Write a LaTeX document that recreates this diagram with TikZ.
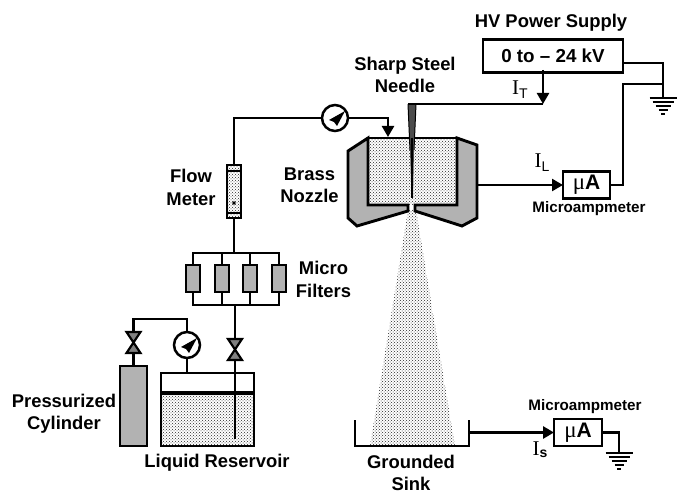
\documentclass[tikz,border=0pt]{standalone}
\usepackage{fontspec}
\setmainfont{Liberation Sans}
\newfontfamily\serifcur{Liberation Serif}
\usetikzlibrary{patterns,arrows.meta}
\definecolor{metal}{gray}{0.70}
\definecolor{valvegray}{gray}{0.50}
\newcommand{\needlemark}[1]{\fill[black] ([shift={(10,-7)}]#1.center) -- ([shift={(-6,2)}]#1.center) -- ([shift={(-1,4)}]#1.center) -- ([shift={(2,8)}]#1.center) -- cycle;}
\newcommand{\valvetie}[1]{\draw[line width=2.2pt,fill=valvegray,line join=miter] (#1.north west) -- (#1.north east) -- (#1.south west) -- (#1.south east) -- cycle;}
\newcommand{\earthmark}[1]{\foreach \dy/\hw in {0/13.5,4/10.5,8/7.5,12/4.5,16/2}{\draw[line width=1.8pt] ([shift={(-\hw,\dy)}]#1) -- ([shift={(\hw,\dy)}]#1);}}
\tikzset{
  label text/.style={font=\fontsize{18.4}{22.5}\bfseries\selectfont,align=center,inner sep=0,text=black},
  small text/.style={font=\fontsize{15.2}{18}\bfseries\selectfont,align=center,inner sep=0},
  current text/.style={inner sep=0,font=\fontsize{21}{21}\selectfont},
  wire/.style={line width=2.4pt,line join=miter},
  heavy/.style={line width=2.9pt,line join=miter},
  flow/.style={wire,-{Triangle[length=11pt,width=12pt]}},
  boxed/.style={draw,line width=2.8pt,fill=white,inner sep=0,outer sep=0},
  gauge/.style={circle,draw,line width=2.5pt,fill=white,minimum size=26pt,inner sep=0,outer sep=0},
  valve/.style={inner sep=0,outer sep=0,minimum width=14pt,minimum height=21pt},
  filterbox/.style={boxed,fill=metal,minimum width=14pt,minimum height=27pt},
  stipple/.style={pattern=crosshatch dots,pattern color=black!85},
}
\begin{document}
\begin{tikzpicture}[x=1pt,y=-1pt]
\useasboundingbox (0,0) rectangle (682,494);
\fill[white] (0,0) rectangle (682,494);

% spray
\fill[stipple] (408,210) -- (416,210) -- (455,446) -- (370,446) -- cycle;

% nozzle
\fill[stipple] (368,138) rectangle (457,205);
\draw[heavy,fill=metal] (368,138) -- (348,151) -- (348,218) -- (357,226) -- (408,211) -- (408,205) -- (368,205) -- cycle;
\draw[heavy,fill=metal] (457,138) -- (477,145) -- (477,218) -- (462,226) -- (415,211) -- (415,205) -- (457,205) -- cycle;
\draw[heavy] (368,138) -- (457,138);

% needle
\coordinate (needletop) at (408,104);
\fill[black!70] (408,104) -- (416,104) -- (414,150) -- (413,198) -- (411.5,198) -- (410,150) -- cycle;
\draw[line width=1.8pt] (412,138) -- (412,198);
\draw[line width=1pt] (408,104) -- (410,150);
\draw[line width=1pt] (416,104) -- (414,150);

% power supply
\node[boxed,minimum width=140pt,minimum height=33pt,font=\fontsize{18.8}{23}\bfseries\selectfont] (hv) at (553,56) {0 to – 24 kV};
\node[label text] (hvlabel) at (551,23) {HV Power Supply};
\coordinate (hvdrop) at (543,70);
\coordinate (junction) at (543,104);
\draw[flow] (hvdrop) -- (junction);
\draw[wire] (junction) -- (needletop);
\node[current text] (it) at (520,90) {\serifcur I\raisebox{-4pt}{\fontsize{14}{14}\selectfont\rmfamily T}};

% HV ground
\coordinate (gnda) at (663,98);
\coordinate (hvout) at (623,63);
\draw[wire] (hvout) -- (663,63) -- (gnda);
\earthmark{gnda}

% nozzle ammeter
\node[boxed,minimum width=47pt,minimum height=27pt] (ma) at (586.5,185) {\serifcur\fontsize{23}{23}\selectfont μ\rmfamily\bfseries\fontsize{21}{21}\selectfont A};
\node[small text] (malabel) at (589,209) {Microampmeter};
\coordinate (nozzleout) at (477,185);
\draw[flow] (nozzleout) -- (ma.west);
\draw[wire] (ma.east) -- (623,185) -- (623,84) -- (663,84);
\node[current text] (il) at (542,163) {\serifcur I\raisebox{-4pt}{\fontsize{14}{14}\selectfont\rmfamily L}};

\node[label text] (needlelabel) at (405,75) {Sharp Steel\\Needle};
\node[label text] (brasslabel) at (309.5,185.5) {Brass\\Nozzle};

% sink
\coordinate (sinktl) at (355,420);
\coordinate (sinktr) at (469,420);
\draw[line width=2.5pt,line join=miter] (sinktl) -- (355,446) -- (469,446) -- (sinktr);
\node[boxed,minimum width=48pt,minimum height=27pt] (sa) at (578,432.5) {\serifcur\fontsize{23}{23}\selectfont μ\rmfamily\bfseries\fontsize{21}{21}\selectfont A};
\node[small text] (salabel) at (585,407) {Microampmeter};
\coordinate (sinkout) at (469,432.5);
\draw[flow,line width=2.9pt] (sinkout) -- (sa.west);
\coordinate (gndb) at (619,453);
\draw[wire] (sa.east) -- (619,432.5) -- (gndb);
\earthmark{gndb}
\node[current text] (is) at (540,450) {\serifcur I\raisebox{-2pt}{\fontsize{14}{14}\bfseries\selectfont\rmfamily s}};
\node[label text] (sinklabel) at (411,473) {Grounded\\Sink};

% flow meter and upper line
\node[boxed,draw,minimum width=14pt,minimum height=53pt,stipple] (fm) at (234,191.5) {};
\draw[line width=2.6pt] (fm.north west) ++(0,6) -- ++(14,0);
\draw[line width=2.6pt] (fm.south west) ++(0,-5) -- ++(14,0);
\fill (234,203) circle (1.9pt);
\node[gauge] (g1) at (335,118) {};
\needlemark{g1}
\coordinate (nozzlein) at (388,137);
\draw[wire] (fm.north) -- (234,118) -- (g1.west);
\draw[flow] (g1.east) -- (388,118) -- (nozzlein);
\node[label text] (flowlabel) at (191,187.5) {Flow\\Meter};

% filters
\coordinate (mantop) at (234,253);
\draw[wire] (fm.south) -- (mantop);
\draw[wire] (193,265) -- (193,253) -- (279,253) -- (279,265);
\draw[wire] (222,253) -- (222,265);
\draw[wire] (250,253) -- (250,265);
\node[filterbox] (f1) at (193,278.5) {};
\node[filterbox] (f2) at (222,278.5) {};
\node[filterbox] (f3) at (250,278.5) {};
\node[filterbox] (f4) at (279,278.5) {};
\coordinate (manbot) at (235,305);
\draw[wire] (f1.south) -- (193,305) -- (279,305) -- (f4.south);
\draw[wire] (f2.south) -- (222,305);
\draw[wire] (f3.south) -- (250,305);
\node[label text] (filterlabel) at (323.5,279.5) {Micro\\Filters};

% reservoir
\node[boxed,minimum width=93pt,minimum height=73pt] (res) at (207.5,409.5) {};
\fill[stipple] (162,393) rectangle (253,445);
\draw[line width=3.4pt] (161,393) -- (254,393);
\coordinate (dip) at (235,439);
\node[valve] (v2) at (235,349.5) {};
\draw[wire] (manbot) -- (v2.north);
\draw[wire] (v2.south) -- (dip);
\valvetie{v2}
\node[label text] (reslabel) at (217,463) {Liquid Reservoir};

% cylinder
\node[boxed,fill=metal,minimum width=27pt,minimum height=80pt] (cyl) at (133.5,406) {};
\node[valve] (v1) at (133.5,342.5) {};
\node[gauge] (g2) at (187,345) {};
\needlemark{g2}
\draw[wire] (cyl.north) -- (v1.south);
\draw[wire] (v1.north) -- (133.5,319) -- (187,319) -- (g2.north);
\draw[wire] (g2.south) -- (187,373);
\valvetie{v1}
\node[label text] (cyllabel) at (64,413.5) {Pressurized\\Cylinder};
\end{tikzpicture}
\end{document}
